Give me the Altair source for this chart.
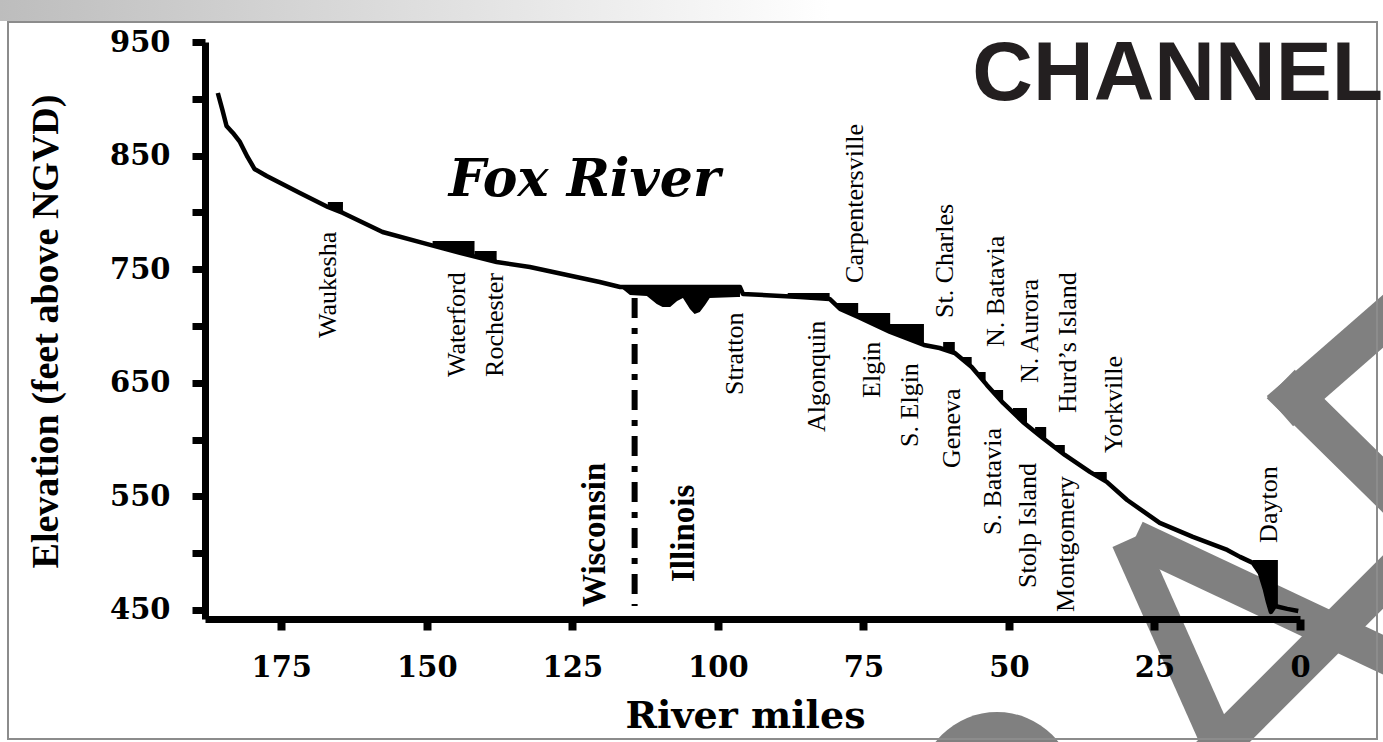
import altair as alt
import pandas as pd

# ---------------- data ----------------
# Fox River bed/low-flow profile: river mile vs. elevation (feet above NGVD)
profile_mile = [185.9, 185.1, 184.4, 183.3, 182.1, 180.8, 179.6, 177.5, 171.8, 167.0,
                164.4, 157.6, 150.7, 144.3, 138.0, 132.3, 125.9, 120.3, 116.8, 96.2,
                95.7, 85.9, 80.8, 79.0, 75.9, 70.4, 64.6, 61.9, 59.3, 56.4,
                53.8, 51.0, 47.6, 44.2, 40.4, 36.1, 33.2, 29.7, 24.1, 18.4,
                12.5, 10.3, 8.1, 6.9, 6.0, 5.5, 5.0, 4.3, 2.2, 0.3]
profile_elev = [905.1, 890.1, 876.1, 869.9, 862.0, 848.8, 838.2, 832.0, 817.0, 804.8,
                799.5, 782.7, 773.1, 764.3, 756.3, 751.9, 744.9, 738.7, 734.3, 734.3,
                728.2, 725.5, 723.8, 715.0, 707.9, 694.7, 683.3, 680.6, 676.2, 663.9,
                648.1, 632.2, 615.5, 601.4, 586.4, 571.5, 562.7, 546.8, 526.6, 514.3,
                502.8, 496.7, 491.4, 482.6, 467.6, 457.0, 448.2, 453.5, 450.9, 449.1]

# Dam pools: flat pool surface from where it meets the bed down to the dam
dam_names = ["Waukesha", "Waterford", "Rochester", "Algonquin", "Carpentersville",
             "Elgin", "S. Elgin", "St. Charles", "Geneva", "N. Batavia", "S. Batavia",
             "N. Aurora", "Stolp Island", "Hurd's Island", "Yorkville", "Dayton"]
pool_start_mile = [167.0, 149.0, 141.8, 88.0, 79.9, 77.5, 73.5, 61.3, 58.1, 55.5,
                   52.7, 49.3, 45.5, 42.1, 35.6, 8.1]
pool_start_bed = [804.8, 772.2, 762.5, 726.1, 720.2, 711.4, 701.8, 680.0, 671.0, 656.9,
                  641.9, 623.9, 607.0, 592.6, 569.7, 491.4]
dam_mile = [164.4, 141.8, 138.0, 80.8, 75.9, 70.4, 64.6, 59.3, 56.4, 54.0,
            51.0, 46.9, 43.6, 40.4, 33.2, 3.8]
dam_bed = [799.5, 762.5, 756.3, 723.8, 707.9, 694.7, 683.3, 676.2, 663.9, 649.0,
           632.2, 613.7, 598.8, 584.7, 561.8, 452.6]
pool_elev = [809.2, 774.8, 766.0, 729.0, 720.2, 711.4, 701.8, 685.9, 672.7, 659.5,
             643.7, 627.8, 611.1, 595.2, 571.5, 494.0]

# Chain O'Lakes: lake surface and lake-bottom outline
lake_surface = 734.3
lake_mile = [116.8, 115.1, 112.2, 110.5, 109.5, 108.2, 107.0, 106.0, 104.8, 104.0,
             103.1, 102.2, 101.4, 96.6, 96.2]
lake_bottom = [734.3, 727.3, 726.4, 719.4, 716.7, 716.7, 722.0, 724.6, 715.0, 710.6,
               712.3, 718.5, 724.6, 725.5, 725.5]

# Wisconsin / Illinois state line
state_line_mile = 114.3
state_line_top = 724.6
state_line_bottom = 453.5

# Town (dam) labels: river mile and elevation at the start of the text
town_labels = ["Waukesha", "Waterford", "Rochester", "Stratton", "Algonquin",
               "Carpentersville", "Elgin", "S. Elgin", "St. Charles", "Geneva",
               "N. Batavia", "S. Batavia", "N. Aurora", "Stolp Island",
               "Hurd\u2019s Island", "Montgomery", "Yorkville", "Dayton"]
town_label_mile = [166.9, 144.8, 138.2, 97.1, 83.0, 76.5, 73.6, 67.0, 60.9, 59.7,
                   52.3, 52.8, 46.3, 46.7, 39.8, 40.2, 32.0, 5.3]
town_label_elev = [689.4, 655.1, 655.1, 639.3, 606.7, 737.9, 636.6, 593.5, 707.0, 575.0,
                   681.5, 516.0, 649.8, 469.4, 623.4, 448.2, 588.2, 509.0]

state_labels = ["Wisconsin", "Illinois"]
state_label_mile = [121.1, 105.8]
state_label_elev = [452.6, 474.6]

river_name = "Fox River"
river_name_mile = 122.9
river_name_elev = 814.4

x_ticks = [175, 150, 125, 100, 75, 50, 25, 0]
y_ticks = [450, 500, 550, 600, 650, 700, 750, 800, 850, 900, 950]

# ---------------- tables ----------------
profile = pd.DataFrame({"mile": profile_mile, "elev": profile_elev})

pool_rows = []
for name, m0, b0, m1, b1, top in zip(dam_names, pool_start_mile, pool_start_bed,
                                      dam_mile, dam_bed, pool_elev):
    pool_rows.append({"dam": name, "mile": m0, "elev": top, "bed": b0})
    for m, e in zip(profile_mile, profile_elev):
        if m1 < m < m0:
            pool_rows.append({"dam": name, "mile": m, "elev": top, "bed": e})
    pool_rows.append({"dam": name, "mile": m1, "elev": top, "bed": b1})
pools = pd.DataFrame(pool_rows)

lake = pd.DataFrame({"mile": lake_mile, "elev": [lake_surface] * len(lake_mile),
                     "bed": lake_bottom})
state_line = pd.DataFrame({"mile": [state_line_mile], "elev": [state_line_top],
                           "bed": [state_line_bottom]})
towns = pd.DataFrame({"name": town_labels, "mile": town_label_mile, "elev": town_label_elev})
states = pd.DataFrame({"name": state_labels, "mile": state_label_mile, "elev": state_label_elev})
river = pd.DataFrame({"name": [river_name], "mile": [river_name_mile], "elev": [river_name_elev]})

# ---------------- scales & axes ----------------
PLOT_W, PLOT_H = 1095, 577

x_scale = alt.Scale(domain=[188.1, 0], nice=False, zero=False)
y_scale = alt.Scale(domain=[442, 950], nice=False, zero=False)

x_axis = alt.Axis(
    values=x_ticks, format="d", title="River miles", grid=False, zindex=1,
    labelFont="DejaVu Serif", labelFontWeight="bold", labelFontSize=29,
    labelColor="black", labelPadding=23, labelFlush=False,
    tickSize=11, tickWidth=8, tickColor="black",
    domainColor="black", domainWidth=7,
    titleFont="DejaVu Serif", titleFontWeight="bold", titleFontSize=38,
    titleColor="black", titleX=540, titleY=108, titleAlign="center",
    titleBaseline="alphabetic",
)
y_axis = alt.Axis(
    values=y_ticks, format="d", grid=False, zindex=1,
    labelExpr="datum.value % 100 == 50 ? datum.label : ''",
    title="Elevation (feet above NGVD)",
    labelFont="DejaVu Serif", labelFontWeight="bold", labelFontSize=29,
    labelColor="black", labelPadding=22, labelFlush=False,
    tickSize=13, tickWidth=7, tickColor="black",
    domainColor="black", domainWidth=7,
    titleFont="Liberation Serif", titleFontWeight="bold", titleFontSize=38,
    titleColor="black", titleAngle=270, titleX=-159, titleY=289,
    titleAlign="center", titleBaseline="middle",
)

X = alt.X("mile:Q", scale=x_scale, axis=x_axis)
Y = alt.Y("elev:Q", scale=y_scale, axis=y_axis)

# ---------------- page decoration (slide frame and watermark) ----------------
one = alt.Data(values=[{}])
WM = "#808080"

band = alt.Chart(one).mark_rect(
    fill=alt.LinearGradient(
        gradient="linear", x1=0, x2=1, y1=0, y2=0,
        stops=[alt.GradientStop(offset=0, color="#bdbdbd"),
               alt.GradientStop(offset=0.6, color="#ffffff")])
).encode(x=alt.value(-205), x2=alt.value(1178), y=alt.value(-42), y2=alt.value(-21))


def wm_stroke(x1, y1, x2, y2, width, cap):
    return alt.Chart(one).mark_rule(color=WM, strokeWidth=width, strokeCap=cap).encode(
        x=alt.value(x1), y=alt.value(y1), x2=alt.value(x2), y2=alt.value(y2))


watermark = [
    wm_stroke(1090, 356, 1215, 247, 40, "square"),
    wm_stroke(1090, 356, 1215, 479, 40, "square"),
    wm_stroke(923, 498, 1023, 723, 34, "butt"),
    wm_stroke(930, 496, 1215, 630, 36, "butt"),
    wm_stroke(1000, 718, 1215, 503, 38, "butt"),
    alt.Chart(one).mark_point(filled=True, shape="circle", size=24328, color=WM,
                              opacity=1).encode(x=alt.value(792), y=alt.value(748)),
]

frame = alt.Chart(one).mark_rect(fillOpacity=0, stroke="#8c8c8c", strokeWidth=2).encode(
    x=alt.value(-197), x2=alt.value(1172), y=alt.value(-20), y2=alt.value(697))

# ---------------- chart layers ----------------
lake_layer = alt.Chart(lake).mark_area(color="black", opacity=1).encode(
    x=X, y=Y, y2="bed:Q")

pool_layer = alt.Chart(pools).mark_area(color="black", opacity=1).encode(
    x=X, y=Y, y2="bed:Q", detail="dam:N")

profile_layer = alt.Chart(profile).mark_line(
    color="black", strokeWidth=4.5, strokeJoin="round").encode(x=X, y=Y)

state_line_layer = alt.Chart(state_line).mark_rule(
    color="black", strokeWidth=6, strokeDash=[20, 10, 6, 10]).encode(
    x=X, y=Y, y2="bed:Q")

town_layer = alt.Chart(towns).mark_text(
    angle=270, align="left", baseline="middle", font="Liberation Serif",
    fontSize=26, color="black").encode(x=X, y=Y, text="name:N")

state_layer = alt.Chart(states).mark_text(
    angle=270, align="left", baseline="middle", font="Liberation Serif",
    fontSize=33, fontWeight="bold", color="black").encode(x=X, y=Y, text="name:N")

river_layer = alt.Chart(river).mark_text(
    align="center", baseline="alphabetic", font="DejaVu Serif", fontSize=52,
    fontWeight="bold", fontStyle="italic", color="black").encode(x=X, y=Y, text="name:N")

chart = alt.layer(
    band, *watermark, frame,
    lake_layer, pool_layer, profile_layer, state_line_layer,
    town_layer, state_layer, river_layer,
).properties(
    width=PLOT_W, height=PLOT_H,
    autosize=alt.AutoSizeParams(type="none"),
    padding={"left": 205, "top": 42, "right": 83, "bottom": 123},
    background="white",
    title=alt.TitleParams(
        text="CHANNEL", anchor="end", frame="group", orient="top",
        font="Liberation Sans", fontSize=84, fontWeight="bold", color="#231f20",
        dx=83, offset=-184, baseline="alphabetic"),
).configure_view(stroke=None)

chart.save("out.html", embed_options={"renderer": "svg", "actions": False})
